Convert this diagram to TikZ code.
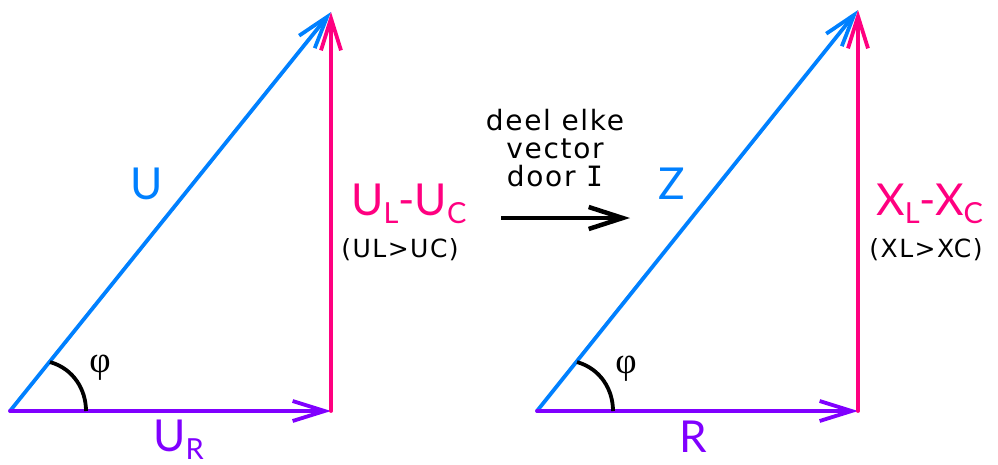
\documentclass[tikz,border=0pt]{standalone}
\usepackage{fontspec}
\setmainfont{DejaVu Sans}[LetterSpace=6]
\newfontfamily\serifI{DejaVu Sans Mono}
\newfontfamily\labfont{Lato}
\newfontfamily\phifont{Liberation Serif}
\usetikzlibrary{arrows.meta}
\definecolor{vblue}{RGB}{0,128,255}
\definecolor{vmag}{RGB}{255,0,128}
\definecolor{vpur}{RGB}{128,0,255}
\newcommand\bigsub[1]{\raisebox{-8pt}{\fontsize{29}{29}\selectfont #1}}
\tikzset{
  vec/.style={line width=3.8pt, line cap=round, -{Straight Barb[length=32pt,width=20pt,line width=3.8pt]}},
  bigarrow/.style={line width=4.5pt, -{Straight Barb[length=34pt,width=22pt,line width=4.5pt]}},
  anglearc/.style={line width=3.8pt, black},
  biglab/.style={inner sep=0pt, font=\labfont\fontsize{44}{44}\selectfont},
  condlab/.style={inner sep=0pt, font=\fontsize{25}{25}\selectfont},
  midlab/.style={inner sep=0pt, font=\fontsize{28}{28}\selectfont},
  philab/.style={inner sep=0pt, font=\phifont\fontsize{37}{37}\selectfont},
}
\begin{document}
\begin{tikzpicture}[x=1pt,y=-1pt]
\useasboundingbox (0,0) rectangle (998,464);
% left triangle
\coordinate (O1) at (10,411);
\coordinate (A1) at (331,411);
\coordinate (T1) at (331,12);
\coordinate (P1) at (50,362);
\coordinate (Q1) at (86,411);
\draw[vec, vblue] (O1) -- (T1);
\draw[vec, vpur] (O1) -- (A1);
\draw[vec, vmag] (A1) -- (T1);
\draw[anglearc] (P1) .. controls (74,369) and (86,390) .. (Q1);
% right triangle
\coordinate (O2) at (537,411);
\coordinate (A2) at (858,411);
\coordinate (T2) at (858,10);
\coordinate (P2) at (577,362);
\coordinate (Q2) at (613,411);
\draw[vec, vblue] (O2) -- (T2);
\draw[vec, vpur] (O2) -- (A2);
\draw[vec, vmag] (A2) -- (T2);
\draw[anglearc] (P2) .. controls (601,369) and (613,390) .. (Q2);
% middle arrow
\coordinate (M1) at (501,218);
\coordinate (M2) at (630,218);
\draw[bigarrow] (M1) -- (M2);
% labels left
\node[biglab, text=vblue, anchor=base] (lU) at (147,199) {U};
\node[biglab, text=vmag, anchor=base west] (lULC) at (351,215) {U\bigsub{L}-U\bigsub{C}};
\node[condlab, anchor=center] (lcond1) at (400,250) {(UL>UC)};
\node[biglab, text=vpur, anchor=base west] (lUR) at (153,451) {U\bigsub{R}};
\node[philab] (phi1) at (100,368) {φ};
% labels middle
\node[midlab, anchor=base] (t1) at (555,130) {deel elke};
\node[midlab, anchor=base] (t2) at (555,158) {vector};
\node[midlab, anchor=base] (t3) at (555,186) {door {\serifI I}};
% labels right
\node[biglab, text=vblue, anchor=base] (lZ) at (672,199) {Z};
\node[biglab, text=vmag, anchor=base west] (lXLC) at (876,215) {X\bigsub{L}-X\bigsub{C}};
\node[condlab, anchor=center] (lcond2) at (926,250) {(XL>XC)};
\node[biglab, text=vpur, anchor=base] (lR) at (693,452) {R};
\node[philab] (phi2) at (626,369) {φ};
\end{tikzpicture}
\end{document}
